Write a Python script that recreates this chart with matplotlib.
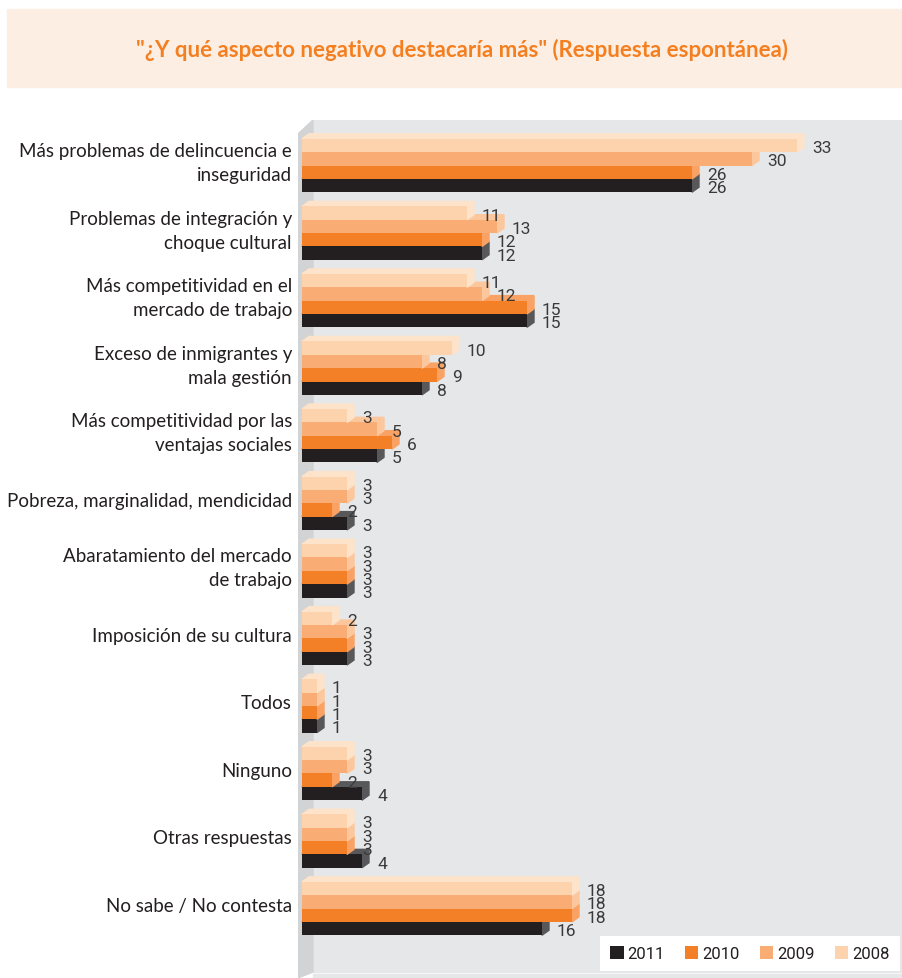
import matplotlib.pyplot as plt
from matplotlib.patches import Polygon, Rectangle, Patch

# Categories, top to bottom
categories = [
    "Más problemas de delincuencia e\ninseguridad",
    "Problemas de integración y\nchoque cultural",
    "Más competitividad en el\nmercado de trabajo",
    "Exceso de inmigrantes y\nmala gestión",
    "Más competitividad por las\nventajas sociales",
    "Pobreza, marginalidad, mendicidad",
    "Abaratamiento del mercado\nde trabajo",
    "Imposición de su cultura",
    "Todos",
    "Ninguno",
    "Otras respuestas",
    "No sabe / No contesta",
]

years = ["2011", "2010", "2009", "2008"]
v2011 = [26, 12, 15, 8, 5, 3, 3, 3, 1, 4, 4, 16]
v2010 = [26, 12, 15, 9, 6, 2, 3, 3, 1, 2, 3, 18]
v2009 = [30, 13, 12, 8, 5, 3, 3, 3, 1, 3, 3, 18]
v2008 = [33, 11, 11, 10, 3, 3, 3, 2, 1, 3, 3, 18]
series = [v2011, v2010, v2009, v2008]

# front face, side/top face
face_colors = ["#231f20", "#f37f26", "#f9ad74", "#fdd3ae"]
side_colors = ["#58585a", "#f9a263", "#fcc79d", "#fee3cb"]
text_color = "#231f20"
num_font = ["Roboto", "DejaVu Sans"]
label_font = ["Lato", "DejaVu Sans"]

W, H = 903, 979
fig = plt.figure(figsize=(W / 100, H / 100), dpi=100)

# title band
fig.patches.append(Rectangle((7 / W, 1 - 88 / H), 1 - 7 / W, 78 / H,
                             transform=fig.transFigure, color="#fdeee3",
                             zorder=-2))
fig.text(462 / W, 1 - 50 / H,
         '"¿Y qué aspecto negativo destacaría más" (Respuesta espontánea)',
         ha="center", va="center", color="#f47f20", fontsize=16,
         fontweight="bold", family=label_font)

# axes: value 0 sits 4 px right of the left edge, 15 px per unit
ax_l, ax_r, ax_t = 298, 903, 121
ax = fig.add_axes([ax_l / W, 0, (ax_r - ax_l) / W, (H - ax_t) / H])
px_x = 15.0
px_y = 67.55
y0 = 166.5
ax.set_xlim(-4 / px_x, (ax_r - ax_l - 4) / px_x)
ax.set_ylim((H - y0) / px_y, (ax_t - y0) / px_y)
ax.set_facecolor("none")
for s in ax.spines.values():
    s.set_visible(False)
ax.set_xticks([])
ax.set_yticks([])

# back wall, left wall and floor
aw = ax_r - ax_l
ah = H - ax_t
ax.add_patch(Rectangle((15 / aw, 6 / ah), 1 - 15 / aw, 1 - 6 / ah,
                       transform=ax.transAxes, color="#e6e7e8", zorder=0))
ax.add_patch(Polygon([(0, 0), (0, 1 - 14 / ah), (15 / aw, 1), (15 / aw, 6 / ah)],
                     closed=True, transform=ax.transAxes, color="#d1d3d4",
                     zorder=0))
ax.add_patch(Rectangle((15 / aw, 0), 1 - 15 / aw, 4 / ah,
                       transform=ax.transAxes, color="#e6e7e8", zorder=0))

# 3d bars
bar_h = 13.35 / px_y
dx = 7 / px_x
dy = 5 / px_y
offsets = [1.5, 0.5, -0.5, -1.5]  # 2011 lowest, 2008 on top
for k in range(4):
    vals = series[k]
    ys = [i + offsets[k] * bar_h for i in range(len(categories))]
    z = 2 + k
    ax.barh(ys, vals, height=bar_h, color=face_colors[k], zorder=z + 0.5)
    for y, v in zip(ys, vals):
        top = y - bar_h / 2
        bot = y + bar_h / 2
        ax.add_patch(Polygon([(0, top), (dx, top - dy), (v + dx, top - dy), (v, top)],
                             closed=True, color=side_colors[k], zorder=z))
        ax.add_patch(Polygon([(v, bot), (v + dx, bot - dy), (v + dx, top - dy), (v, top)],
                             closed=True, color=side_colors[k], zorder=z))
        ax.text(v + dx + 8 / px_x, y + 2 / px_y, str(v), ha="left", va="center",
                fontsize=12.5, color="#3a3a3a", zorder=10, family=num_font)

# category labels
for i, name in enumerate(categories):
    ax.text(-10 / px_x, i - 3 / px_y, name, ha="right", va="center",
            fontsize=13.5, color=text_color, family=label_font,
            linespacing=1.5, clip_on=False)

handles = [Patch(facecolor=face_colors[k], edgecolor="none") for k in range(4)]
leg = fig.legend(handles, years, loc="center", ncol=4,
                 bbox_to_anchor=(750 / W, 1 - 954.5 / H),
                 frameon=True, fancybox=False, framealpha=1,
                 handlelength=0.8, handleheight=0.8, handletextpad=0.25,
                 columnspacing=1.2, borderpad=0.6,
                 prop={"family": num_font, "size": 12})
leg.get_frame().set_edgecolor("none")
leg.get_frame().set_facecolor("white")
for t in leg.get_texts():
    t.set_color(text_color)

fig.savefig("out.png", dpi=100)
